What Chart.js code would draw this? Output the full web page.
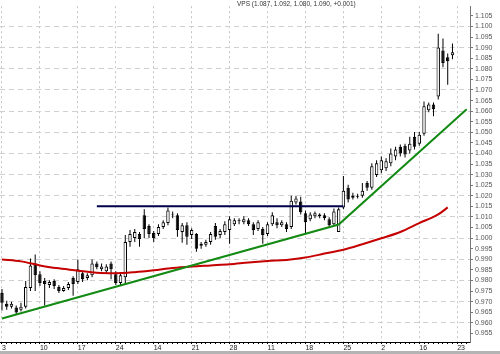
<!DOCTYPE html>
<html>
<head>
<meta charset="utf-8">
<script src="https://cdn.jsdelivr.net/npm/chart.js@4"></script>
<style>
  html, body { margin: 0; padding: 0; background: #fff; }
  #wrap { position: relative; width: 500px; height: 354px; overflow: hidden; }
  #grafico { display: block; }
  #titulo { position: absolute; left: 237px; top: 0px; font: 6.5px "Liberation Sans", Arial, sans-serif; color: #333; white-space: nowrap; }
  #faixa { position: absolute; left: 0; top: 351px; width: 500px; height: 3px; background: #b4b4b4; }
</style>
</head>
<body>
<div id="wrap">
  <canvas id="grafico" width="500" height="351"></canvas>
  <div id="titulo">VPS (1.087, 1.092, 1.080, 1.090, +0.001)</div>
  <div id="faixa"></div>
</div>
<script>
// rótulos semanais do eixo x (um a cada 8 pregões)
const semanas = ['3', '10', '17', '24', '14', '21', '28', '11', '18', '25', '2', '16', '23'];
const passoSemana = 8;

// candles diários
const opens = [
  .9741, .9690, .9676, .9672, .9662, .9676, .9764, .9880, .9829, .9797,
  .9778, .9797, .9769, .9750, .9764, .9811, .9792, .9834, .9811, .9825,
  .9880, .9853, .9843, .9880, .9829, .9788, .9815, .9982, 1.0001, 1.0020,
  1.0108, 1.0057, 1.0024, 1.0020, 1.0052, 1.0071, 1.0112, 1.0108, 1.0029, 1.0061,
  1.0015, 1.0020, .9973, .9969, .9982, 1.0057, 1.0015, 1.0029, 1.0038, 1.0066,
  1.0080, 1.0075, 1.0084, 1.0066, 1.0043, 1.0043, 1.0020, 1.0066, 1.0075, 1.0061,
  1.0066, 1.0052, 1.0168, 1.0173, 1.0117, 1.0089, 1.0103, 1.0112, 1.0108, 1.0089,
  1.0066, 1.0029, 1.0145, 1.0238, 1.0191, 1.0200, 1.0200, 1.0261, 1.0238, 1.0298,
  1.0321, 1.0330, 1.0354, 1.0386, 1.0432, 1.0437, 1.0414, 1.0479, 1.0446, 1.0493,
  1.0604, 1.0632, 1.0669, 1.0887, 1.0855, 1.0864
];
const highs = [
  .9760, .9704, .9699, .9681, .9695, .9797, .9904, .9922, .9843, .9811,
  .9801, .9806, .9778, .9774, .9792, .9820, .9899, .9843, .9834, .9899,
  .9890, .9880, .9876, .9890, .9843, .9839, 1.0015, 1.0038, 1.0043, 1.0029,
  1.0136, 1.0066, 1.0033, 1.0066, 1.0084, 1.0145, 1.0126, 1.0117, 1.0071, 1.0075,
  1.0047, 1.0024, .9982, .9992, 1.0029, 1.0071, 1.0043, 1.0080, 1.0103, 1.0094,
  1.0094, 1.0103, 1.0094, 1.0075, 1.0084, 1.0052, 1.0075, 1.0122, 1.0094, 1.0084,
  1.0075, 1.0200, 1.0200, 1.0196, 1.0131, 1.0122, 1.0126, 1.0117, 1.0117, 1.0098,
  1.0140, 1.0145, 1.0293, 1.0252, 1.0214, 1.0210, 1.0261, 1.0270, 1.0354, 1.0368,
  1.0386, 1.0377, 1.0423, 1.0432, 1.0442, 1.0446, 1.0479, 1.0502, 1.0502, 1.0646,
  1.0641, 1.0641, 1.0966, 1.0943, 1.0873, 1.0920
];
const lows = [
  .9658, .9662, .9667, .9639, .9653, .9667, .9750, .9750, .9774, .9681,
  .9764, .9760, .9741, .9746, .9755, .9727, .9783, .9792, .9801, .9815,
  .9853, .9843, .9834, .9806, .9778, .9778, .9783, .9959, .9982, .9959,
  1.0001, 1.0001, .9982, 1.0010, 1.0043, 1.0061, 1.0094, 1.0006, .9978, .9969,
  .9996, .9936, .9950, .9959, .9969, .9992, 1.0001, 1.0015, .9973, 1.0057,
  1.0066, 1.0066, 1.0057, 1.0015, 1.0033, .9973, 1.0010, 1.0057, 1.0047, 1.0052,
  1.0029, 1.0043, 1.0159, 1.0112, 1.0020, 1.0080, 1.0094, 1.0094, 1.0084, 1.0052,
  1.0057, 1.0029, 1.0136, 1.0168, 1.0182, 1.0187, 1.0191, 1.0224, 1.0228, 1.0289,
  1.0307, 1.0317, 1.0340, 1.0368, 1.0386, 1.0381, 1.0400, 1.0419, 1.0437, 1.0484,
  1.0595, 1.0576, 1.0655, 1.0808, 1.0725, 1.0845
];
const closes = [
  .9695, .9676, .9690, .9648, .9676, .9769, .9871, .9825, .9788, .9783,
  .9792, .9774, .9750, .9764, .9783, .9783, .9853, .9806, .9825, .9880,
  .9862, .9866, .9866, .9853, .9788, .9825, .9982, 1.0020, 1.0029, .9996,
  1.0043, 1.0020, 1.0001, 1.0052, 1.0075, 1.0131, 1.0108, 1.0038, 1.0061, 1.0006,
  1.0038, .9950, .9964, .9982, 1.0020, 1.0006, 1.0033, 1.0066, 1.0089, 1.0084,
  1.0084, 1.0089, 1.0066, 1.0038, 1.0075, 1.0015, 1.0066, 1.0108, 1.0061, 1.0075,
  1.0043, 1.0177, 1.0187, 1.0122, 1.0075, 1.0112, 1.0117, 1.0103, 1.0094, 1.0061,
  1.0126, 1.0136, 1.0224, 1.0182, 1.0200, 1.0196, 1.0224, 1.0238, 1.0340, 1.0354,
  1.0368, 1.0363, 1.0400, 1.0419, 1.0400, 1.0395, 1.0446, 1.0432, 1.0488, 1.0623,
  1.0632, 1.0609, 1.0901, 1.0827, 1.0836, 1.0878
];

// média móvel (vermelha), lida a cada 4 pregões
const mediaX = [0, 4, 8, 12, 16, 20, 24, 28, 32, 36, 40, 44, 48, 52, 56, 60, 64, 68, 72, 76, 80, 84, 88, 92, 94];
const mediaY = [.9899, .9890, .9871, .9857, .9846, .9836, .9834, .9839, .9848, .9859, .9866, .9871, .9876,
                .9885, .9892, .9897, .9908, .9927, .9945, .9971, .9999, 1.0029, 1.0071, 1.0112, 1.0145];

// linha de tendência (verde) e resistência (azul)
const tendenciaX = [0, 71, 98];
const tendenciaY = [0.9620, 1.0064, 1.0609];
const resistenciaX = [20, 72];
const resistenciaY = [1.015, 1.015];

const yTicks = [0.955, 0.960, 0.965, 0.970, 0.975, 0.980, 0.985, 0.990, 0.995, 1.000,
                1.005, 1.010, 1.015, 1.020, 1.025, 1.030, 1.035, 1.040, 1.045, 1.050,
                1.055, 1.060, 1.065, 1.070, 1.075, 1.080, 1.085, 1.090, 1.095, 1.100, 1.105];

const indices = opens.map((_, i) => i);
const slots = Array.from({length: 99}, (_, i) => i);
const pares = (xs, ys) => xs.map((x, i) => ({x: x, y: ys[i]}));

Chart.defaults.font.family = '"Liberation Sans", Arial, sans-serif';

new Chart(document.getElementById('grafico'), {
    type: 'bar',
    data: {
        datasets: [
            { type: 'line', label: 'Tendência', data: pares(tendenciaX, tendenciaY),
              borderColor: '#138a13', borderWidth: 2, pointRadius: 0, order: 0 },
            { type: 'line', label: 'Resistência', data: pares(resistenciaX, resistenciaY),
              borderColor: '#00004a', borderWidth: 2, pointRadius: 0, order: 0 },
            { type: 'line', label: 'Média', data: pares(mediaX, mediaY),
              borderColor: '#c40000', borderWidth: 2, pointRadius: 0,
              cubicInterpolationMode: 'monotone', order: 0 },
            { label: 'Corpo', data: indices.map(i => ({x: i, y: [opens[i], closes[i]]})),
              backgroundColor: ctx => closes[ctx.dataIndex] >= opens[ctx.dataIndex] ? '#ffffff' : '#000000',
              borderColor: '#000', borderWidth: 1, borderSkipped: false,
              grouped: false, barPercentage: 0.9, maxBarThickness: 4, order: 1 },
            { label: 'Pavio', data: indices.map(i => ({x: i, y: [lows[i], highs[i]]})),
              backgroundColor: '#000', grouped: false, maxBarThickness: 1, order: 2 }
        ]
    },
    options: {
        responsive: false,
        animation: false,
        layout: { padding: 0 },
        plugins: { legend: { display: false }, tooltip: { enabled: false } },
        scales: {
            x: {
                type: 'linear', min: -0.42, max: 98.7, offset: false,
                afterBuildTicks: s => { s.ticks = slots.map(v => ({value: v})); },
                afterFit: s => { s.height = 9; },
                grid: {
                    offset: false,
                    color: c => (c.tick && c.tick.value % passoSemana === 0) ? '#c4c4c4' : 'rgba(0,0,0,0)',
                    tickColor: '#000', tickLength: 2
                },
                border: { color: '#000', dash: [2, 3] },
                ticks: {
                    autoSkip: false, maxRotation: 0, align: 'start', padding: 0,
                    color: '#222', font: { size: 7 },
                    callback: v => v % passoSemana === 0 ? (semanas[v / passoSemana] || '') : ''
                }
            },
            y: {
                type: 'linear', position: 'right', min: 0.9509, max: 1.1096,
                afterBuildTicks: s => { s.ticks = yTicks.map(v => ({value: v})); },
                afterFit: s => { s.width = 30; },
                grid: {
                    color: c => (c.tick && Math.round(c.tick.value * 1000) % 10 === 0) ? '#d0d0d0' : 'rgba(0,0,0,0)',
                    tickColor: '#777', tickLength: 3
                },
                border: { color: '#777', dash: [5, 4] },
                ticks: {
                    autoSkip: false, padding: 2, color: '#555', font: { size: 7 },
                    callback: v => v.toFixed(3)
                }
            }
        }
    }
});
</script>
</body>
</html>
